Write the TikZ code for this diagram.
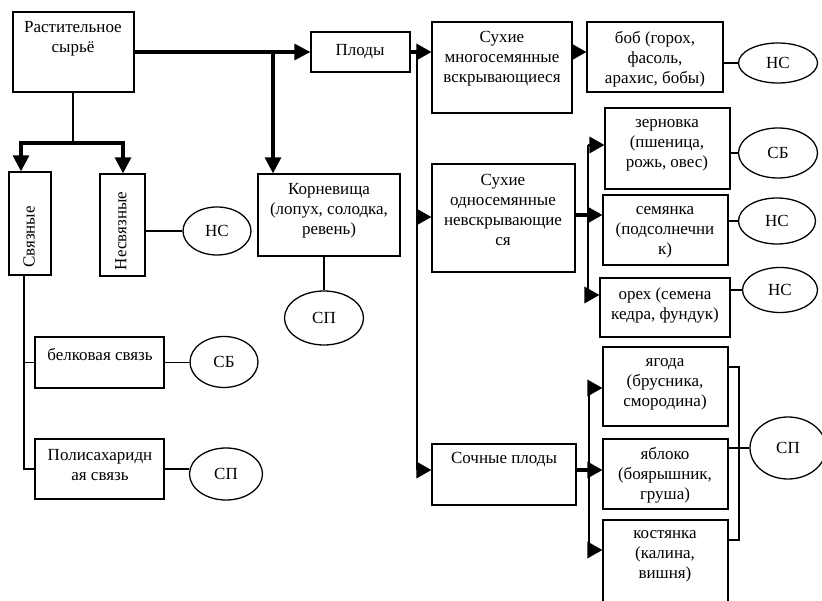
\documentclass[tikz,border=0pt]{standalone}
\usepackage{fontspec}
\setmainfont{Liberation Serif}
\usetikzlibrary{arrows.meta, positioning, fit, shapes.geometric}

\begin{document}
\begin{tikzpicture}[x=0.03cm, y=-0.03cm,
  box/.style={draw, line width=1.1pt, inner sep=0pt},
  oval/.style={draw, ellipse, line width=1.1pt, inner sep=0pt, font=\fontsize{14.5}{17}\selectfont},
  txt/.style={font=\fontsize{14.5}{17}\selectfont, align=center, inner sep=0pt},
  ln/.style={line width=1.1pt},
  thk/.style={line width=2.6pt},
  arr/.style={line width=1.1pt, -{Triangle[length=0.45cm, width=0.5cm]}},
  thkarr/.style={line width=2.6pt, -{Triangle[length=0.48cm, width=0.48cm]}}
]
  \useasboundingbox (0,0) rectangle (822,601);
  \clip (0,0) rectangle (822,601);

  % left part
  \node[box, fit={(13,12) (134,92)}] (rast) {};
  \node[txt] (rast-t) at (73,39) {Растительное\\сырьё};
  \node[box, fit={(311,32) (410,72)}] (plody) {};
  \node[txt] (plody-t) at (360,52) {Плоды};
  \node[box, fit={(258,174) (400,256)}] (kor) {};
  \node[txt] (kor-t) at (329,211) {Корневища\\(лопух, солодка,\\ревень)};
  \node[oval, minimum width=2.37cm, minimum height=1.62cm] (cp1) at (324,318) {СП};

  \node[box, fit={(9,172) (51,275)}] (svyaz) {};
  \node[txt, rotate=90] (svyaz-t) at (29,237) {Связные};
  \node[box, fit={(100,174) (145,276)}] (nesv) {};
  \node[txt, rotate=90] (nesv-t) at (121,231) {Несвязные};
  \node[oval, minimum width=2.04cm, minimum height=1.44cm] (nc1) at (217,231) {НС};

  \node[box, fit={(35,337) (164,388)}] (belk) {};
  \node[txt] (belk-t) at (100,355) {белковая связь};
  \node[oval, minimum width=2.04cm, minimum height=1.53cm] (sb1) at (224,362) {СБ};
  \node[box, fit={(35,439) (164,499)}] (poly) {};
  \node[txt] (poly-t) at (100,465) {Полисахаридн\\ая связь};
  \node[oval, minimum width=2.19cm, minimum height=1.56cm] (cp2) at (226,474) {СП};

  % right part
  \node[box, fit={(432,22) (572,113)}] (mnogo) {};
  \node[txt] (mnogo-t) at (502,59) {Сухие\\многосемянные\\вскрывающиеся};
  \node[box, fit={(587,22) (723,92)}] (bob) {};
  \node[txt] (bob-t) at (655,59) {боб (горох,\\фасоль,\\арахис, бобы)};
  \node[oval, minimum width=2.37cm, minimum height=1.2cm] (nc2) at (778,63) {НС};

  \node[box, fit={(432,164) (575,272)}] (odno) {};
  \node[txt] (odno-t) at (503,210) {Сухие\\односемянные\\невскрывающие\\ся};
  \node[box, fit={(605,108) (730,189)}] (zern) {};
  \node[txt] (zern-t) at (667,145) {зерновка\\(пшеница,\\рожь, овес)};
  \node[oval, minimum width=2.37cm, minimum height=1.5cm] (sb2) at (778,153) {СБ};
  \node[box, fit={(603,195) (728,265)}] (semy) {};
  \node[txt] (semy-t) at (665,232) {семянка\\(подсолнечни\\к)};
  \node[oval, minimum width=2.31cm, minimum height=1.38cm] (nc3) at (777,221) {НС};
  \node[box, fit={(600,278) (730,337)}] (oreh) {};
  \node[txt] (oreh-t) at (665,305) {орех (семена\\кедра, фундук)};
  \node[oval, minimum width=2.25cm, minimum height=1.35cm] (nc4) at (780,290) {НС};

  \node[box, fit={(432,444) (576,505)}] (soch) {};
  \node[txt] (soch-t) at (504,460) {Сочные плоды};
  \node[box, fit={(603,347) (728,426)}] (yag) {};
  \node[txt] (yag-t) at (665,384) {ягода\\(брусника,\\смородина)};
  \node[box, fit={(603,439) (728,509)}] (yabl) {};
  \node[txt] (yabl-t) at (665,475) {яблоко\\(боярышник,\\груша)};
  \node[box, fit={(603,520) (728,612)}] (kost) {};
  \node[txt] (kost-t) at (665,556) {костянка\\(калина,\\вишня)};
  \node[oval, minimum width=2.28cm, minimum height=1.86cm] (cp3) at (788,448) {СП};

  % connectors, left
  \coordinate (jk) at (273,52);
  \draw[thkarr] (rast.east |- plody.west) -- (plody.west);
  \draw[thkarr] (jk) -- (jk |- kor.north);
  \draw[ln] (cp1 |- kor.south) -- (cp1.north);

  \coordinate (jr) at (73,143);
  \coordinate (js) at (21,143);
  \coordinate (jn) at (123,143);
  \draw[ln] (rast.south -| jr) -- (jr);
  \draw[thkarr] (jr) -| (js |- svyaz.north);
  \draw[thkarr] (jr) -| (jn |- nesv.north);
  \draw[ln] (nesv.east |- nc1) -- (nc1.west);

  \coordinate (jv) at (24,0);
  \draw[ln] (jv |- svyaz.south) |- (poly.west);
  \draw[ln] (jv |- belk.west) -- (belk.west);
  \draw[ln] (belk.east) -- (sb1.west |- belk.east);
  \draw[ln] (poly.east) -- (cp2.west |- poly.east);

  % connectors, right
  \coordinate (jp) at (417,52);
  \coordinate (jpb) at (417,470);
  \draw[thk] (plody.east) -- (jp);
  \draw[ln] (jp) -- (jpb);
  \draw[arr] (jp) -- (mnogo.west |- jp);
  \draw[arr] (jp |- 0,217) -- (odno.west |- 0,217);
  \draw[arr] (jpb) -- (soch.west |- jpb);
  \draw[arr] (mnogo.east |- jp) -- (bob.west |- jp);
  \draw[ln] (bob.east |- nc2) -- (nc2.west);

  \coordinate (jo) at (588,215);
  \coordinate (jot) at (588,145);
  \coordinate (job) at (588,295);
  \draw[thk] (odno.east |- jo) -- (jo);
  \draw[ln] (jot) -- (job);
  \draw[arr] (jot) -- (zern.west |- jot);
  \draw[arr] (jo) -- (semy.west |- jo);
  \draw[arr] (job) -- (oreh.west |- job);
  \draw[ln] (zern.east |- sb2) -- (sb2.west);
  \draw[ln] (semy.east |- nc3) -- (nc3.west);
  \draw[ln] (oreh.east |- nc4) -- (nc4.west);

  \coordinate (jc) at (589,470);
  \coordinate (jct) at (589,388);
  \coordinate (jcb) at (589,550);
  \draw[thk] (soch.east |- jc) -- (jc);
  \draw[ln] (jct) -- (jcb);
  \draw[arr] (jct) -- (yag.west |- jct);
  \draw[arr] (jc) -- (yabl.west |- jc);
  \draw[arr] (jcb) -- (kost.west |- jcb);

  \coordinate (bt) at (739,367);
  \coordinate (bb) at (739,540);
  \draw[ln] (yag.east |- bt) -- (bt) -- (bb) -- (kost.east |- bb);
  \draw[ln] (yabl.east |- cp3) -- (cp3.west);
\end{tikzpicture}
\end{document}
